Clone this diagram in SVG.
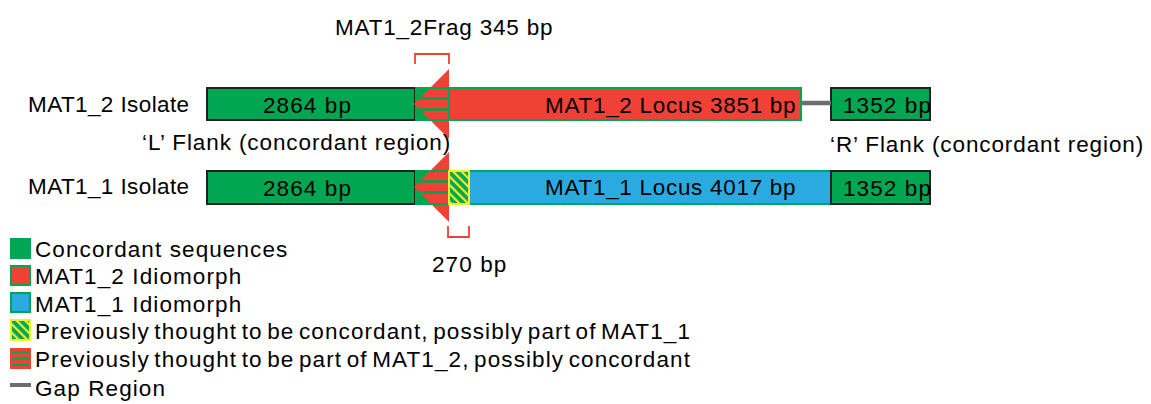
<svg xmlns="http://www.w3.org/2000/svg" width="1151" height="404" viewBox="0 0 1151 404">
  <style>
    text { font-family: "Liberation Sans", Arial, sans-serif; font-size: 22.5px; letter-spacing: 1.1px; fill: #000; }
    .tight { letter-spacing: 0.4px; }
    .mid { letter-spacing: 0.8px; }
    .long { word-spacing: -2.8px; }
    .flank { fill: #00a651; stroke: #222; stroke-width: 2; }
    .band { fill: #00a651; }
    .mat2 { fill: #ef4136; stroke: #00a651; stroke-width: 2; }
    .mat1 { fill: #29abe2; stroke: #00a651; stroke-width: 2; }
    .arrow { fill: #ef4136; }
    .stripe { stroke: #00a651; stroke-width: 2.5; }
    .edge { stroke: #00a651; stroke-width: 2; }
    .hatch { fill: url(#hatch); stroke: #f2ed2a; stroke-width: 2; }
    .bracket { fill: none; stroke: #ef4136; stroke-width: 1.8; }
    .gap { stroke: #6d6e71; stroke-width: 4.5; }
  </style>
  <defs>
    <pattern id="hatch" patternUnits="userSpaceOnUse" width="6" height="6" patternTransform="rotate(-45)">
      <rect width="6" height="6" fill="#00a651"/>
      <rect width="2.2" height="6" fill="#f2ed2a"/>
    </pattern>
  </defs>

  <rect width="1151" height="404" fill="#ffffff"/>

  <!-- fragment annotations -->
  <g id="frag-top">
    <path class="bracket" d="M415,64 V54 H449 V64"/>
    <text class="mid" x="335" y="35">MAT1_2Frag 345 bp</text>
  </g>
  <g id="frag-bottom">
    <path class="bracket" d="M448,226 V237 H469 V226"/>
    <text x="432" y="272">270 bp</text>
  </g>

  <!-- MAT1_2 isolate row -->
  <g id="row-mat2">
    <text class="tight" x="28" y="112">MAT1_2 Isolate</text>
    <g id="mat2-left-flank">
      <rect class="flank" x="207" y="88" width="208" height="32"/>
      <text x="263" y="113">2864 bp</text>
    </g>
    <g id="mat2-junction">
      <rect class="band" x="415" y="88" width="34" height="32"/>
      <polygon class="arrow" points="414,104 449,69 449,139"/>
      <line class="stripe" x1="415" y1="98.5" x2="449" y2="98.5"/>
      <line class="stripe" x1="415" y1="109.5" x2="449" y2="109.5"/>
      <line class="edge" x1="415" y1="88" x2="449" y2="88"/>
      <line class="edge" x1="415" y1="120" x2="449" y2="120"/>
    </g>
    <g id="mat2-locus">
      <rect class="mat2" x="449" y="88" width="352" height="32"/>
      <text x="545" y="113" style="letter-spacing:0.7px">MAT1_2 Locus 3851 bp</text>
    </g>
    <g id="mat2-right-flank">
      <rect class="flank" x="831" y="88" width="99" height="32"/>
      <text x="843" y="113">1352 bp</text>
    </g>
  </g>

  <!-- flank captions -->
  <text style="letter-spacing:0.9px" x="142" y="150">‘L’ Flank (concordant region)</text>
  <text style="letter-spacing:0.9px" x="830" y="152">‘R’ Flank (concordant region)</text>

  <!-- MAT1_1 isolate row -->
  <g id="row-mat1">
    <text class="tight" x="28" y="194">MAT1_1 Isolate</text>
    <g id="mat1-left-flank">
      <rect class="flank" x="207" y="171" width="208" height="33"/>
      <text x="263" y="196">2864 bp</text>
    </g>
    <g id="mat1-junction">
      <rect class="band" x="415" y="171" width="34" height="33"/>
      <polygon class="arrow" points="414,187 449,152 449,222"/>
      <line class="stripe" x1="415" y1="181.5" x2="449" y2="181.5"/>
      <line class="stripe" x1="415" y1="192.5" x2="449" y2="192.5"/>
      <line class="edge" x1="415" y1="171" x2="449" y2="171"/>
      <line class="edge" x1="415" y1="204" x2="449" y2="204"/>
    </g>
    <g id="mat1-locus">
      <rect class="mat1" x="469" y="171" width="362" height="33"/>
      <rect class="hatch" x="449" y="171" width="20" height="33"/>
      <text x="545" y="195" style="letter-spacing:0.7px">MAT1_1 Locus 4017 bp</text>
    </g>
    <g id="mat1-right-flank">
      <rect class="flank" x="831" y="171" width="99" height="33"/>
      <text x="843" y="196">1352 bp</text>
    </g>
  </g>

  <!-- connectors -->
  <g id="connectors">
    <line class="gap" x1="801" y1="103" x2="831" y2="103"/>
  </g>

  <!-- legend -->
  <g id="legend">
    <rect x="10" y="238" width="21" height="21" fill="#00a651"/>
    <text x="35" y="257">Concordant sequences</text>

    <rect x="11" y="266" width="19" height="19" fill="#ef4136" stroke="#00a651" stroke-width="2"/>
    <text x="35" y="284">MAT1_2 Idiomorph</text>

    <rect x="11" y="293" width="19" height="19" fill="#29abe2" stroke="#00a651" stroke-width="2"/>
    <text x="35" y="312">MAT1_1 Idiomorph</text>

    <rect x="11" y="320" width="19" height="20" fill="url(#hatch)" stroke="#f2ed2a" stroke-width="2"/>
    <text class="long" x="35" y="339">Previously thought to be concordant, possibly part of MAT1_1</text>

    <rect x="10" y="348" width="21" height="21" fill="#ef4136"/>
    <line x1="12" y1="352.5" x2="29" y2="352.5" stroke="#00a651" stroke-width="2"/>
    <line x1="12" y1="358.5" x2="29" y2="358.5" stroke="#00a651" stroke-width="2"/>
    <line x1="12" y1="365" x2="29" y2="365" stroke="#00a651" stroke-width="2"/>
    <text class="long" x="35" y="367">Previously thought to be part of MAT1_2, possibly concordant</text>

    <line x1="10" y1="385" x2="31" y2="385" stroke="#6d6e71" stroke-width="4"/>
    <text x="35" y="396">Gap Region</text>
  </g>
</svg>
